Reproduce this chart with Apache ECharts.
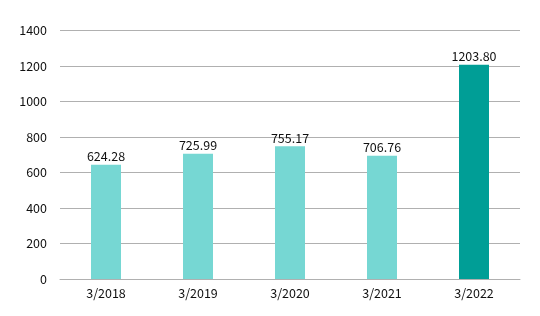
<!DOCTYPE html>
<html><head><meta charset="utf-8">
<script src="https://cdn.jsdelivr.net/npm/echarts@6/dist/echarts.min.js"></script>
<style>html,body{margin:0;padding:0;background:#fff}#c{width:540px;height:316px}</style>
</head><body><div id="c"></div>
<script>
const categories = ["3/2018","3/2019","3/2020","3/2021","3/2022"];
// bar heights as drawn in the picture
const barValues = [643, 705, 748, 694, 1207];
// value labels printed above the bars
const valueLabels = ["624.28","725.99","755.17","706.76","1203.80"];
const yTicks = [0,200,400,600,800,1000,1200,1400];
const colors = ["#76d7d3","#76d7d3","#76d7d3","#76d7d3","#009e96"];
const chart = echarts.init(document.getElementById('c'));
chart.setOption({
  animation:false,
  textStyle:{fontFamily:"Noto Sans CJK JP"},
  grid:{left:60,right:20,top:30.5,bottom:37},
  xAxis:{type:'category',data:categories,
    axisLine:{lineStyle:{color:'#b0b0b0'}},axisTick:{show:false},
    axisLabel:{color:'#111',fontSize:12.5,margin:8,fontFamily:"Noto Sans CJK JP"}},
  yAxis:{type:'value',min:yTicks[0],max:yTicks[yTicks.length-1],interval:200,
    axisLine:{show:false},axisTick:{show:false},
    splitLine:{lineStyle:{color:'#b0b0b0'}},
    axisLabel:{color:'#111',fontSize:12.5,margin:13,fontFamily:"Noto Sans CJK JP",formatter:v=>String(v)}},
  series:[{type:'bar',barWidth:30,
    data:barValues.map((v,i)=>({value:v,itemStyle:{color:colors[i]}})),
    label:{show:true,position:'top',color:'#111',fontSize:12.5,distance:2,fontFamily:"Noto Sans CJK JP",
      formatter:p=>valueLabels[p.dataIndex]}}]
});
</script></body></html>
